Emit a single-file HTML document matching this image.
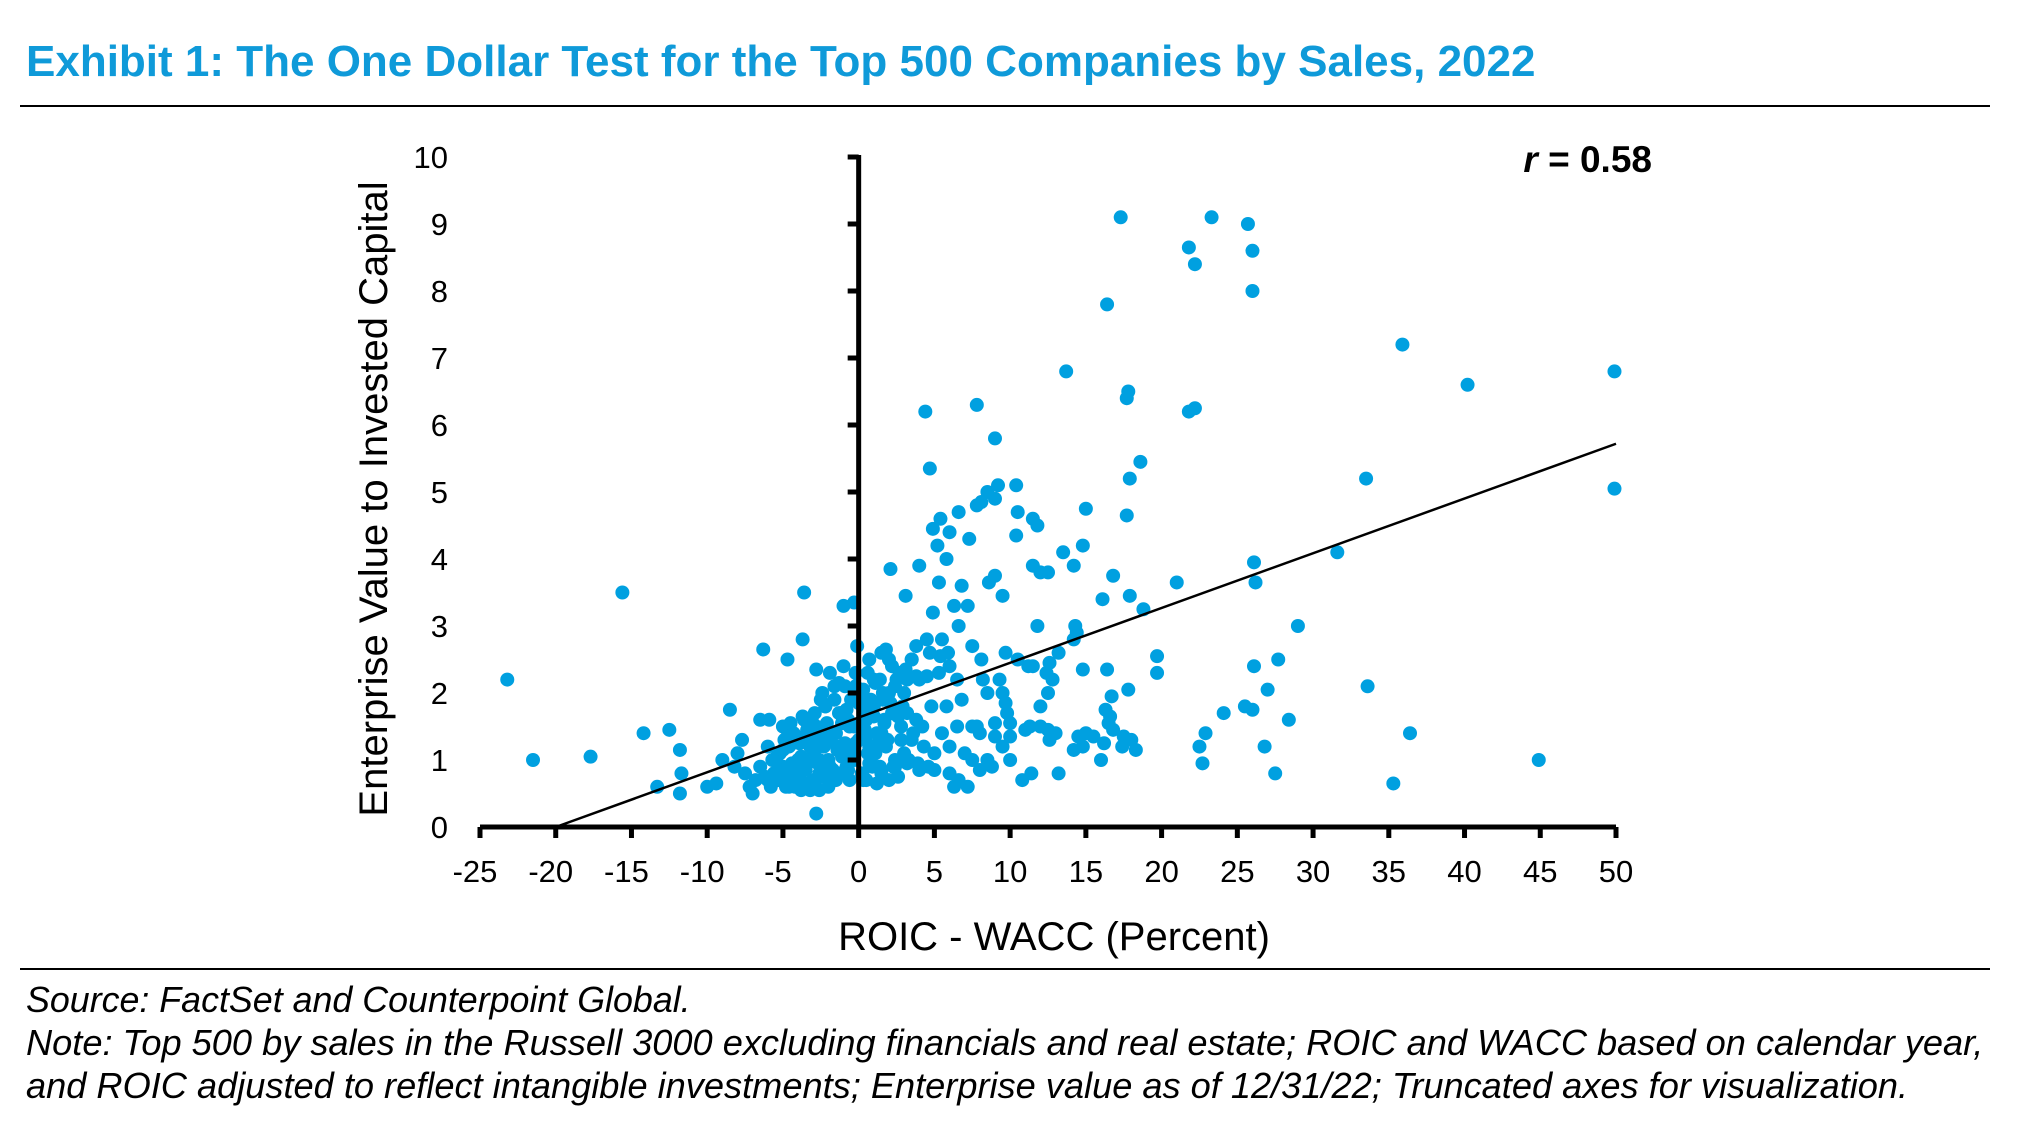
<!DOCTYPE html>
<html><head><meta charset="utf-8"><style>
html,body{margin:0;padding:0;background:#fff}
body{width:2038px;height:1142px;position:relative;overflow:hidden;font-family:"Liberation Sans",Arial,sans-serif}
.t{position:absolute;white-space:nowrap;line-height:1}
</style></head><body>
<div class="t" style="left:26px;top:40px;font-size:44px;font-weight:bold;color:#0f9ad9">Exhibit 1: The One Dollar Test for the Top 500 Companies by Sales, 2022</div>
<div style="position:absolute;left:20px;top:105px;width:1970px;height:2px;background:#000"></div>
<svg id="chart" width="2038" height="1142" style="position:absolute;left:0;top:0"></svg>
<div style="position:absolute;left:20px;top:968px;width:1970px;height:2px;background:#000"></div>
<div class="t" style="left:26px;top:983px;font-size:35.8px;font-style:italic">Source: FactSet and Counterpoint Global.</div>
<div class="t" style="left:26px;top:1025px;font-size:36.2px;font-style:italic">Note: Top 500 by sales in the Russell 3000 excluding financials and real estate; ROIC and WACC based on calendar year,</div>
<div class="t" style="left:26px;top:1068px;font-size:36.2px;font-style:italic">and ROIC adjusted to reflect intangible investments; Enterprise value as of 12/31/22; Truncated axes for visualization.</div>
<script>
const xTicks=[-25,-20,-15,-10,-5,0,5,10,15,20,25,30,35,40,45,50];
const yTicks=[0,1,2,3,4,5,6,7,8,9,10];
const trendStart=[-20,0];
const trendEnd=[50,5.72];
const rLabel="0.58";
const ptsX=[-23.2,-21.5,-17.7,-15.6,-14.2,-12.5,-11.8,-11.7,-11.8,-13.3,-10,-9.4,-8.5,-7.7,-6.5,-6.3,-4.7,-3.6,-3.7,-2.8,-1,-0.3,-2.8,
2.1,4,4.4,4.7,4.9,5.2,5.4,5.8,5.3,6.6,6,6.8,7.3,7.8,8.1,8.5,7.8,9,9,9.2,10.4,10.4,10.5,11.5,11.8,12.5,11.5,12,13.5,14.2,14.8,15,13.7,16.4,17.3,17.7,17.8,17.9,18.6,17.7,16.8,17.9,16.1,18.8,21,14.3,14.4,14.2,13.2,11.8,9.5,9.7,8.1,8.6,9.0,6.3,7.2,6.6,5.4,5.9,4.7,5.3,3.1,4.9,3.2,6.5,2.0,2.5,3.5,4.5,5.5,6.0,3.8,7.5,8.2,8.5,9.3,9.7,10,10.5,11.2,11.5,9.5,9.8,12.5,12.0,12.5,12.8,12.4,14.8,12.6,16.4,17.8,19.7,19.7,16.6,16.3,16.7,16.5,16.8,16.2,17.4,18.3,18.0,17.5,16.0,15.5,14.5,15.0,14.2,14.8,13.2,11.4,10.8,10.0,9.5,10.0,11.0,11.3,12.0,12.6,13.0,9.0,8.5,8.0,7.5,7.0,7.2,6.6,6.0,5.0,4.6,4.0,3.2,2.4,2.0,1.5,0.5,7.5,8.0,6.5,5.8,5.5,4.8,4.2,3.5,2.8,6.8,7.8,9.0,6.0,5.0,4.3,3.0,8.8,6.3,
21.8,22.2,23.3,25.7,26,26,21.8,22.2,26.1,26.2,26.1,27,27.7,29,28.4,25.5,26,24.1,22.9,22.5,22.7,26.8,27.5,31.6,33.5,33.6,35.9,36.4,35.3,40.2,44.9,49.9,49.9,
-9.0,-8.2,-8.0,-7.5,-7.2,-7.0,-6.8,-6.5,-6.0,-5.8,-5.5,-5.3,-5.0,-5.0,-4.8,-4.6,-4.5,-4.3,-4.0,-4.0,-3.8,-3.6,-3.5,-3.3,-3.0,-3.0,-2.8,-2.6,-2.5,-2.3,-2.0,-2.0,-1.8,-1.6,-1.5,-1.3,-1.0,-1.0,-0.8,-0.6,-0.5,-0.3,0,0.2,0.3,0.5,0.7,0.8,1.0,1.0,1.2,1.4,1.5,1.7,1.8,2.0,2.2,2.3,2.5,2.7,2.8,3.0,3.3,3.5,3.8,4.0,-5.6,-4.9,-4.2,-3.4,-2.7,-2.2,-1.4,-0.7,0.1,0.9,1.6,2.4,3.2,-5.2,-4.4,-3.9,-3.1,-2.4,-1.7,-1.1,-0.4,0.4,1.1,1.9,2.6,3.6,-6.2,-5.4,-4.7,-3.7,-2.9,-2.1,-1.2,-0.2,0.6,1.3,2.1,-0.9,-0.1,0.7,1.5,2.9,-1.9,-2.6,-3.2,-4.1,-5.1,1.2,1.8,2.6,-0.5,0.3,3.9,4.5,
-5.9,-5.5,-5.1,-4.7,-4.3,-3.9,-3.5,-3.1,-2.7,-2.3,-1.9,-1.5,-1.1,-0.7,-0.3,0.3,0.7,1.1,1.5,-5.7,-5.0,-4.4,-3.8,-3.2,-2.6,-2.0,-1.4,-0.8,-0.2,0.5,1.2,-4.8,-4.1,-3.4,-2.8,-2.1,-1.5,-0.9,-0.3,0.4,1.0,1.7,-6.0,-5.3,-4.6,-3.9,-3.3,-2.5,-1.8,-1.2,-0.6,0.2,0.9,-4.5,-3.7,-2.9,-2.2,-1.6,-0.8,0.0,0.8,1.6,2.2,-2.4,-1.3,-0.2,0.6,1.4,2.4,3.1,3.8];
const ptsY=[2.2,1.0,1.05,3.5,1.4,1.45,1.15,0.8,0.5,0.6,0.6,0.65,1.75,1.3,1.6,2.65,2.5,3.5,2.8,2.35,3.3,3.35,0.2,
3.85,3.9,6.2,5.35,4.45,4.2,4.6,4.0,3.65,4.7,4.4,3.6,4.3,4.8,4.85,5.0,6.3,5.8,4.9,5.1,5.1,4.35,4.7,4.6,4.5,3.8,3.9,3.8,4.1,3.9,4.2,4.75,6.8,7.8,9.1,6.4,6.5,5.2,5.45,4.65,3.75,3.45,3.4,3.25,3.65,3.0,2.9,2.8,2.6,3.0,3.45,2.6,2.5,3.65,3.75,3.3,3.3,3.0,2.55,2.6,2.6,2.3,3.45,3.2,2.2,2.2,2.5,2.2,2.5,2.8,2.8,2.4,2.7,2.7,2.2,2.0,2.2,1.85,1.55,2.5,2.4,2.4,2.0,1.7,2.0,1.8,1.45,2.2,2.3,2.35,2.45,2.35,2.05,2.3,2.55,1.65,1.75,1.95,1.55,1.45,1.25,1.2,1.15,1.3,1.35,1.0,1.35,1.35,1.4,1.15,1.2,0.8,0.8,0.7,1.0,1.2,1.35,1.45,1.5,1.5,1.3,1.4,1.35,1.0,0.85,1.0,1.1,0.6,0.7,0.8,0.85,0.9,0.85,0.95,0.9,0.7,0.8,0.7,1.5,1.4,1.5,1.8,1.4,1.8,1.5,1.3,1.5,1.9,1.5,1.55,1.2,1.1,1.2,1.1,0.9,0.6,
8.65,8.4,9.1,9.0,8.6,8.0,6.2,6.25,3.95,3.65,2.4,2.05,2.5,3.0,1.6,1.8,1.75,1.7,1.4,1.2,0.95,1.2,0.8,4.1,5.2,2.1,7.2,1.4,0.65,6.6,1.0,6.8,5.05,
1.0,0.9,1.1,0.8,0.6,0.5,0.7,0.9,1.2,0.6,1.0,0.7,1.5,0.9,0.6,1.2,0.8,1.4,0.7,1.0,0.55,1.6,0.9,1.3,0.7,1.1,1.5,0.8,1.9,1.2,0.6,1.0,1.4,2.1,0.8,1.7,1.2,2.4,0.9,1.5,1.9,1.1,1.3,2.0,0.7,1.6,2.5,1.0,1.8,2.2,1.4,0.9,2.6,1.6,1.2,2.0,2.4,0.9,1.7,2.3,1.3,2.0,1.0,2.5,1.6,2.2,0.8,1.3,0.6,1.0,1.4,1.8,1.2,1.6,1.5,1.2,1.9,1.0,1.7,1.1,0.95,1.25,1.6,1.35,0.85,1.55,1.05,1.75,2.15,1.3,1.65,1.4,0.75,1.05,1.35,0.65,1.15,1.45,1.7,2.3,1.1,1.25,1.85,2.1,2.7,1.2,1.4,1.8,2.3,0.55,0.55,0.85,0.75,0.65,2.65,0.75,1.05,2.05,0.95,2.25,1.6,
0.75,0.85,0.65,0.95,0.75,0.85,0.65,0.95,0.8,0.9,0.7,1.05,0.85,1.0,0.75,0.95,1.1,0.85,1.0,1.15,1.25,1.05,1.2,1.0,1.3,1.15,1.1,1.25,1.35,1.2,1.3,1.35,1.45,1.3,1.55,1.4,1.25,1.5,1.45,1.65,1.55,0.7,0.8,0.6,0.8,0.65,0.75,0.7,0.8,0.7,0.8,0.9,1.55,1.65,1.7,1.8,1.9,1.75,1.85,1.9,2.0,1.7,2.0,2.15,2.1,2.3,2.2,2.1,2.35,2.25];
const S='http://www.w3.org/2000/svg';
const svg=document.getElementById('chart');
const X0=480,X1=1616,Y0=827,Y1=157;
const sx=v=>X0+(v+25)/75*(X1-X0);
const sy=v=>Y0-v/10*(Y0-Y1);
function mk(tag,attrs){const e=document.createElementNS(S,tag);for(const k in attrs)e.setAttribute(k,attrs[k]);svg.appendChild(e);return e;}
for(let i=0;i<ptsX.length;i++){
 const c=mk('circle',{cx:sx(ptsX[i]),cy:sy(ptsY[i]),r:7,fill:'#00a0e0'});
 
 
}
const xa=mk('line',{x1:X0,y1:Y0,x2:X1,y2:Y0,stroke:'#000','stroke-width':5});


const ya=mk('line',{x1:sx(0),y1:Y1-2,x2:sx(0),y2:Y0,stroke:'#000','stroke-width':5});


xTicks.forEach(v=>{
 const t=mk('line',{x1:sx(v),y1:Y0,x2:sx(v),y2:Y0+11,stroke:'#000','stroke-width':5});
 
 
 const l=mk('text',{x:sx(v)-(v<0?5:0),y:Y0+55,'font-size':31,'text-anchor':'middle','font-family':'Liberation Sans, sans-serif'});
 l.textContent=String(v);
 
 
});
yTicks.forEach(v=>{
 const t=mk('line',{x1:sx(0)-11,y1:sy(v),x2:sx(0),y2:sy(v),stroke:'#000','stroke-width':5});
 
 
 const l=mk('text',{x:448,y:sy(v)+11,'font-size':31,'text-anchor':'end','font-family':'Liberation Sans, sans-serif'});
 l.textContent=String(v);
 
 
});
const tl=mk('line',{x1:sx(trendStart[0]),y1:sy(trendStart[1]),x2:sx(trendEnd[0]),y2:sy(trendEnd[1]),stroke:'#000','stroke-width':2.5});


const xt=mk('text',{x:1054,y:950,'font-size':40,'text-anchor':'middle','font-family':'Liberation Sans, sans-serif'});
xt.textContent='ROIC - WACC (Percent)';


const yt=mk('text',{x:0,y:0,'font-size':40,'text-anchor':'middle','font-family':'Liberation Sans, sans-serif',transform:'translate(387,499) rotate(-90)'});
yt.textContent='Enterprise Value to Invested Capital';


const rt=mk('text',{x:1652,y:172,'font-size':37,'font-weight':'bold','text-anchor':'end','font-family':'Liberation Sans, sans-serif'});
rt.innerHTML='<tspan font-style="italic">r</tspan> = '+rLabel;


</script>
</body></html>
